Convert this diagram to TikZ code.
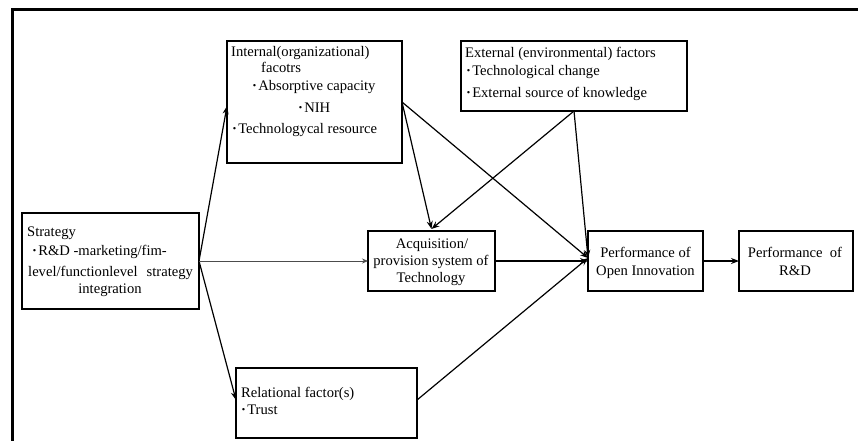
\documentclass[tikz,border=0pt]{standalone}
\usepackage{fontspec}
\setmainfont{Liberation Serif}
\usetikzlibrary{arrows.meta}
\newcommand{\fsz}{\fontsize{14.6pt}{17pt}\selectfont}
\newcommand{\bul}{\textbf{·}\kern1.2pt}
\tikzset{
  box/.style={draw, line width=1.3pt, inner sep=0pt, outer sep=0pt},
  txt/.style={inner sep=0pt, anchor=base west, font=\fsz},
  ctxt/.style={inner sep=0pt, anchor=base, font=\fsz},
  arr/.style={-{Stealth[length=8pt,width=6pt]}, line width=1.2pt},
  thinarr/.style={-{Stealth[length=6pt,width=5pt]}, line width=0.8pt, draw=black!70}
}
\begin{document}
\begin{tikzpicture}[x=1pt,y=-1pt]
\useasboundingbox (0,0) rectangle (858,440);
% frame
\draw[line width=3pt] (12,441) -- (12,9.5) -- (859,9.5);
% boxes
\node[box, minimum width=175pt, minimum height=122pt] (int) at (314.5,102) {};
\node[box, minimum width=226pt, minimum height=70pt] (ext) at (574,76) {};
\node[box, minimum width=177pt, minimum height=96pt] (strat) at (110.5,261) {};
\node[box, minimum width=127pt, minimum height=60pt] (acq) at (431.5,261) {};
\node[box, minimum width=115pt, minimum height=60pt] (poi) at (645.5,261) {};
\node[box, minimum width=114pt, minimum height=60pt] (prd) at (796,261) {};
\node[box, minimum width=181pt, minimum height=70pt] (rel) at (326.5,403) {};
% internal texts
\node[txt] (i1) at (231,56) {Internal(organizational)};
\node[txt] (i2) at (261,72) {facotrs};
\node[txt] (i3) at (252,90) {\bul Absorptive capacity};
\node[txt] (i4) at (298,112) {\bul NIH};
\node[txt] (i5) at (232,133) {\bul Technologycal resource};
% external texts
\node[txt] (e1) at (465,57) {External (environmental) factors};
\node[txt] (e2) at (466,75) {\bul Technological change};
\node[txt] (e3) at (466,97) {\bul External source of knowledge};
% strategy texts
\node[txt] (s1) at (27,236) {Strategy};
\node[txt] (s2) at (32,255) {\bul R\&D -marketing/fim-};
\node[txt] (s3) at (28,276) {level/functionlevel\hspace{9pt}strategy};
\node[ctxt] (s4) at (110,293) {integration};
% acquisition texts
\node[ctxt] (a1) at (432,248) {Acquisition/};
\node[ctxt] (a2) at (431,265) {provision system of};
\node[ctxt] (a3) at (431,282) {Technology};
% performance texts
\node[ctxt] (p1) at (645.5,257) {Performance of};
\node[ctxt] (p2) at (645.5,275) {Open Innovation};
\node[ctxt] (r1) at (795,257) {Performance\ \ of};
\node[ctxt] (r2) at (795,275) {R\&D};
% relational texts
\node[txt] (l1) at (241,397) {Relational factor(s)};
\node[txt] (l2) at (241,414) {\bul Trust};
% connectors
\coordinate (poiin) at ([yshift=3pt]poi.west);
\draw[arr] (strat.east) -- ([yshift=-4pt]int.west);
\draw[arr] (strat.east) -- ([yshift=3pt]rel.west);
\draw[thinarr] (strat.east) -- (acq.west);
\draw[arr] (int.east) -- ([yshift=2pt]acq.north);
\draw[arr] (int.east) -- (poiin);
\draw[arr] (ext.south) -- ([yshift=2pt]acq.north);
\draw[arr] (ext.south) -- (poiin);
\draw[arr] (acq.east) -- (poi.west);
\draw[arr] ([yshift=3pt]rel.east) -- (poiin);
\draw[arr] (poi.east) -- (prd.west);
\end{tikzpicture}
\end{document}
